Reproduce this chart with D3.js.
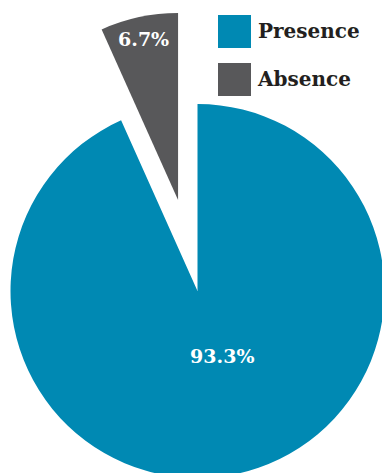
<!DOCTYPE html>
<html lang="en">
<head>
    <meta charset="UTF-8">
    <title>Presence / Absence pie</title>
    <style>
        body { margin: 0; background: #fff; }
        svg { display: block; }
        .lbl { font-family: "DejaVu Serif", serif; font-weight: bold; }
    </style>
</head>
<body>
    <svg id="pie" width="382" height="473"></svg>
    <script src="https://d3js.org/d3.v7.min.js"></script>
    <script>
        // data
        const categories = ["Presence", "Absence"];
        const values = [93.3, 6.7];
        const colors = ["#0089b3", "#58585a"];

        const svg = d3.select("#pie");
        const cx = 197.5, cy = 291, radius = 187;
        const explode = 93; // Absence slice pulled out

        // clockwise from 12 o'clock: Presence first, Absence ends back at the top
        const pie = d3.pie().sort(null);
        const arcs = pie(values);

        const arc = d3.arc().innerRadius(0).outerRadius(radius);

        const g = svg.append("g").attr("transform", `translate(${cx},${cy})`);

        function offset(d, i) {
            if (i !== 1) return [0, 0];
            const a = (d.startAngle + d.endAngle) / 2;
            return [Math.sin(a) * explode, -Math.cos(a) * explode];
        }

        g.selectAll("path")
            .data(arcs)
            .enter().append("path")
            .attr("d", arc)
            .attr("fill", (d, i) => colors[i])
            .attr("transform", (d, i) => `translate(${offset(d, i)})`);

        // percentage labels
        const labelR = [66, 165];
        g.selectAll("text.lbl")
            .data(arcs)
            .enter().append("text")
            .attr("class", "lbl")
            .attr("text-anchor", "middle")
            .attr("dominant-baseline", "central")
            .attr("font-size", 19)
            .attr("fill", "#fff")
            .attr("transform", (d, i) => {
                const a = (d.startAngle + d.endAngle) / 2;
                const o = offset(d, i);
                let x = o[0] + Math.sin(a) * labelR[i];
                let y = o[1] - Math.cos(a) * labelR[i];
                if (i === 0) x += 11; // nudge, as in the original
                return `translate(${x},${y})`;
            })
            .text(d => d3.format(".1f")(d.data) + "%");

        // legend
        const legend = svg.append("g").attr("transform", "translate(218,15)");
        const item = legend.selectAll("g")
            .data(categories)
            .enter().append("g")
            .attr("transform", (d, i) => `translate(0,${i * 48})`);
        item.append("rect")
            .attr("width", 33).attr("height", 33)
            .attr("fill", (d, i) => colors[i]);
        item.append("text")
            .attr("class", "lbl")
            .attr("x", 40).attr("y", 23)
            .attr("font-size", 20)
            .attr("fill", "#231f20")
            .text(d => d);
    </script>
</body>
</html>
